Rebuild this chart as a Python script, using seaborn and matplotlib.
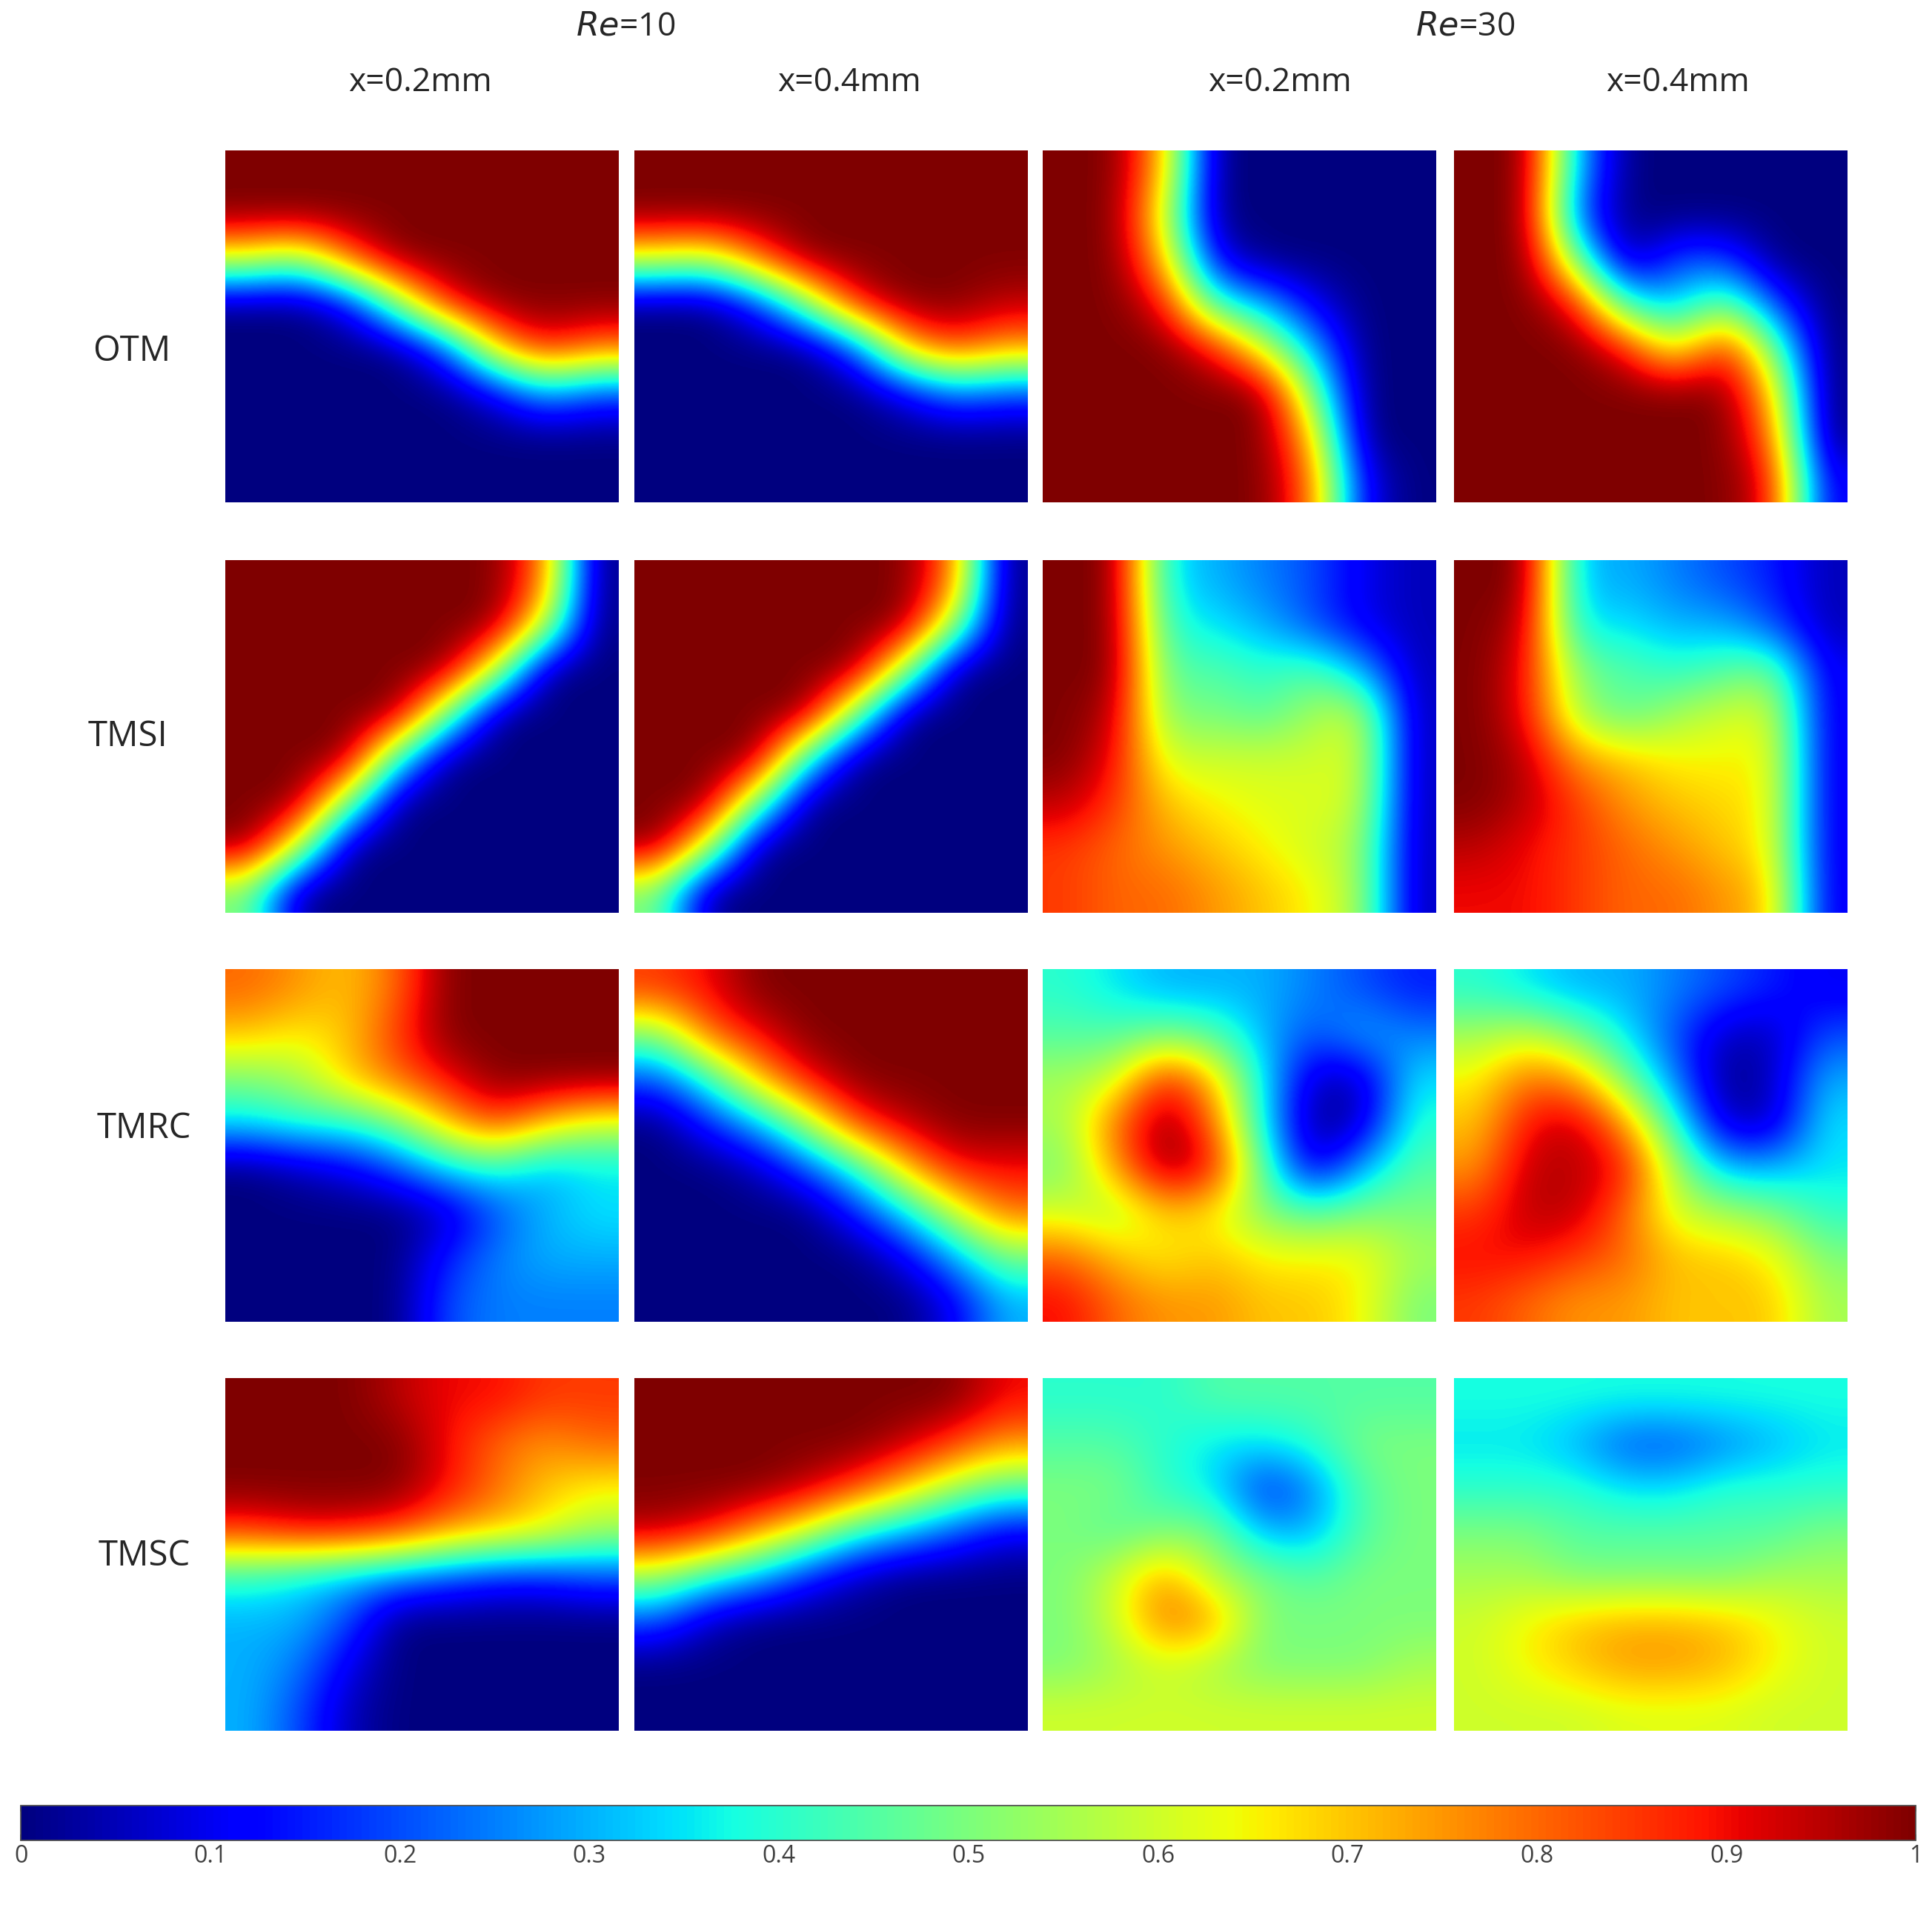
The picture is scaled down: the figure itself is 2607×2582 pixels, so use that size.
import numpy as np
import matplotlib
matplotlib.use('Agg')
import matplotlib.pyplot as plt
import seaborn as sns

sns.set_theme(style='white')
plt.rcParams['font.family'] = ['Open Sans', 'DejaVu Sans']

rows = ['OTM', 'TMSI', 'TMRC', 'TMSC']
re_labels = ['10', '30']
x_labels = ['x=0.2mm', 'x=0.4mm', 'x=0.2mm', 'x=0.4mm']
cbar_ticks = [0, 0.1, 0.2, 0.3, 0.4, 0.5, 0.6, 0.7, 0.8, 0.9, 1]
cbar_labels = ['0', '0.1', '0.2', '0.3', '0.4', '0.5', '0.6', '0.7', '0.8', '0.9', '1']

# concentration on a coarse 8x8 grid (top row first)
otm_10_02 = [[1, 1, 1, 1, 1, 1, 1, 1],
             [1, 1, 1, 1, 1, 1, 1, 1],
             [.6, .5, .8, 1, 1, 1, 1, 1],
             [0, 0, .1, .5, .9, 1, 1, 1],
             [0, 0, 0, 0, .2, .7, .9, .8],
             [0, 0, 0, 0, 0, .1, .3, .2],
             [0, 0, 0, 0, 0, 0, 0, 0],
             [0, 0, 0, 0, 0, 0, 0, 0]]
otm_10_04 = [[1, 1, 1, 1, 1, 1, 1, 1],
             [1, 1, 1, 1, 1, 1, 1, 1],
             [.6, .55, .8, 1, 1, 1, 1, 1],
             [0, 0, .15, .5, .9, 1, 1, .95],
             [0, 0, 0, 0, .2, .7, .85, .75],
             [0, 0, 0, 0, 0, .1, .25, .2],
             [0, 0, 0, 0, 0, 0, 0, 0],
             [0, 0, 0, 0, 0, 0, 0, 0]]
otm_30_02 = [[1, 1, .7, 0, 0, 0, 0, 0],
             [1, 1, .6, 0, 0, 0, 0, 0],
             [1, 1, .7, .1, 0, 0, 0, 0],
             [1, 1, .9, .4, .3, .1, 0, 0],
             [1, 1, 1, .9, .6, .3, 0, 0],
             [1, 1, 1, 1, 1, .5, 0, 0],
             [1, 1, 1, 1, 1, .7, 0, 0],
             [1, 1, 1, 1, 1, .8, .1, 0]]
otm_30_04 = [[1, 1, .3, 0, 0, 0, 0, 0],
             [1, 1, .2, 0, 0, 0, 0, 0],
             [1, 1, .5, 0, .2, .2, 0, 0],
             [1, 1, .9, .4, .3, .5, .2, 0],
             [1, 1, 1, .9, .6, .9, .5, 0],
             [1, 1, 1, 1, 1, 1, .7, 0],
             [1, 1, 1, 1, 1, 1, .8, 0],
             [1, 1, 1, 1, 1, 1, .9, .1]]
tmsi_10_02 = [[1, 1, 1, 1, 1, 1, .8, 0],
              [1, 1, 1, 1, 1, 1, .6, 0],
              [1, 1, 1, 1, 1, .6, 0, 0],
              [1, 1, 1, 1, .5, 0, 0, 0],
              [1, 1, 1, .4, 0, 0, 0, 0],
              [1, 1, .5, 0, 0, 0, 0, 0],
              [1, .6, 0, 0, 0, 0, 0, 0],
              [.5, 0, 0, 0, 0, 0, 0, 0]]
tmsi_10_04 = [[1, 1, 1, 1, 1, 1, .8, 0],
              [1, 1, 1, 1, 1, 1, .55, 0],
              [1, 1, 1, 1, 1, .55, 0, 0],
              [1, 1, 1, 1, .5, 0, 0, 0],
              [1, 1, 1, .4, 0, 0, 0, 0],
              [1, 1, .5, 0, 0, 0, 0, 0],
              [1, .6, 0, 0, 0, 0, 0, 0],
              [.5, 0, 0, 0, 0, 0, 0, 0]]
tmsi_30_02 = [[1, 1, .35, .3, .25, .2, .1, .05],
              [1, 1, .4, .35, .3, .2, .1, .05],
              [1, 1, .45, .45, .4, .45, .3, .05],
              [1, .95, .5, .5, .45, .55, .6, .05],
              [1, .9, .6, .6, .6, .6, .62, .05],
              [.95, .85, .7, .65, .62, .62, .6, .05],
              [.85, .8, .75, .7, .65, .6, .55, .05],
              [.85, .8, .8, .75, .7, .65, .55, .05]]
tmsi_30_04 = [[1, 1, .3, .3, .25, .2, .15, .05],
              [1, .95, .35, .35, .3, .3, .2, .05],
              [1, .9, .5, .45, .4, .45, .5, .1],
              [1, .9, .55, .45, .55, .6, .62, .1],
              [1, .95, .75, .7, .65, .65, .65, .1],
              [1, .95, .85, .75, .7, .68, .65, .1],
              [.95, .9, .85, .8, .75, .7, .65, .1],
              [.9, .9, .85, .8, .8, .75, .7, .1]]
tmrc_10_02 = [[.8, .75, .7, .8, 1, 1, 1, 1],
              [.7, .65, .7, .85, 1, 1, 1, 1],
              [.5, .55, .7, .8, .9, 1, 1, 1],
              [.35, .4, .4, .5, .7, .85, .7, .6],
              [0, .05, .1, .2, .35, .4, .3, .35],
              [0, 0, 0, 0, .05, .2, .3, .35],
              [0, 0, 0, 0, .15, .25, .3, .3],
              [0, 0, 0, 0, .2, .25, .25, .25]]
tmrc_10_04 = [[.85, .9, 1, 1, 1, 1, 1, 1],
              [.5, .8, .9, 1, 1, 1, 1, 1],
              [.2, .4, .7, .9, 1, 1, 1, 1],
              [0, .15, .3, .55, .85, .95, 1, 1],
              [0, 0, .05, .2, .4, .7, .9, .9],
              [0, 0, 0, 0, .15, .35, .6, .8],
              [0, 0, 0, 0, 0, .1, .3, .5],
              [0, 0, 0, 0, 0, 0, .1, .3]]
tmrc_30_02 = [[.4, .35, .3, .3, .3, .25, .2, .15],
              [.45, .45, .5, .45, .3, .2, .3, .25],
              [.55, .6, .9, .7, .35, .05, .05, .35],
              [.55, .8, 1, .8, .35, 0, .05, .4],
              [.5, .75, 1, .9, .45, .05, .3, .45],
              [.6, .55, .7, .65, .5, .45, .5, .5],
              [.8, .7, .65, .7, .65, .65, .65, .55],
              [.9, .8, .75, .75, .7, .7, .65, .5]]
tmrc_30_04 = [[.4, .35, .3, .3, .25, .2, .15, .1],
              [.55, .6, .5, .35, .2, .05, .05, .2],
              [.65, .8, .75, .5, .25, 0, .05, .3],
              [.7, .9, .95, .75, .4, .05, .05, .35],
              [.75, .95, .95, .9, .55, .3, .3, .35],
              [.85, .95, .95, .8, .6, .55, .5, .4],
              [.9, .9, .85, .8, .7, .7, .65, .5],
              [.85, .8, .75, .75, .7, .7, .7, .55]]
tmsc_10_02 = [[1, 1, 1, .95, .9, .9, .85, .85],
              [1, 1, 1, 1, .9, .8, .75, .8],
              [1, 1, 1, 1, .9, .8, .7, .65],
              [.85, .9, .9, .85, .75, .7, .65, .55],
              [.4, .35, .3, .25, .2, .15, .15, .2],
              [.3, .3, .2, 0, 0, 0, 0, 0],
              [.3, .25, .1, 0, 0, 0, 0, 0],
              [.3, .2, .05, 0, 0, 0, 0, 0]]
tmsc_10_04 = [[1, 1, 1, 1, 1, 1, 1, .9],
              [1, 1, 1, 1, 1, .95, .85, .75],
              [1, 1, 1, .95, .85, .7, .55, .45],
              [.95, .9, .75, .6, .4, .3, .2, .1],
              [.55, .4, .3, .15, .05, 0, 0, 0],
              [.2, .05, 0, 0, 0, 0, 0, 0],
              [0, 0, 0, 0, 0, 0, 0, 0],
              [0, 0, 0, 0, 0, 0, 0, 0]]
tmsc_30_02 = [[.4, .4, .4, .45, .45, .45, .45, .45],
              [.45, .45, .4, .35, .35, .4, .5, .5],
              [.5, .5, .4, .35, .15, .25, .45, .5],
              [.5, .45, .5, .5, .3, .3, .45, .5],
              [.5, .6, .75, .55, .5, .45, .5, .5],
              [.5, .6, .8, .75, .5, .5, .5, .5],
              [.5, .55, .6, .55, .5, .5, .5, .55],
              [.6, .6, .6, .6, .6, .6, .6, .6]]
tmsc_30_04 = [[.38, .38, .38, .38, .38, .38, .38, .38],
              [.35, .35, .3, .2, .2, .25, .3, .35],
              [.4, .4, .4, .35, .35, .4, .4, .4],
              [.5, .5, .45, .45, .45, .45, .45, .5],
              [.55, .55, .5, .5, .5, .5, .55, .55],
              [.6, .65, .7, .72, .72, .7, .65, .6],
              [.6, .65, .7, .75, .75, .72, .65, .6],
              [.6, .6, .6, .62, .62, .62, .6, .6]]

panels = [[otm_10_02, otm_10_04, otm_30_02, otm_30_04],
          [tmsi_10_02, tmsi_10_04, tmsi_30_02, tmsi_30_04],
          [tmrc_10_02, tmrc_10_04, tmrc_30_02, tmrc_30_04],
          [tmsc_10_02, tmsc_10_04, tmsc_30_02, tmsc_30_04]]

W, H = 1568, 1553
def box(x0, y0, w, h):
    return [x0 / W, 1 - (y0 + h) / H, w / W, h / H]

fig = plt.figure(figsize=(26.07, 25.82), dpi=100)
col_left = [183, 515, 846, 1180]
row_top = [122, 455, 787, 1119]
row_lab_x = [107, 104, 117, 117]
row_lab_y = [285, 598, 916, 1263]

for i in range(4):
    for j in range(4):
        ax = fig.add_axes(box(col_left[j], row_top[i], 319, 286))
        im = ax.imshow(np.array(panels[i][j]), cmap='jet', vmin=0, vmax=1,
                       interpolation='bicubic', aspect='auto')
        ax.set_xticks([])
        ax.set_yticks([])
        for s in ax.spines.values():
            s.set_visible(False)
    fig.text(row_lab_x[i] / W, 1 - row_lab_y[i] / H, rows[i],
             fontsize=34, ha='center', va='center')

for k, xc in enumerate([508, 1189]):
    fig.text(xc / W, 1 - 22 / H, '$\\mathit{Re}$=' + re_labels[k],
             fontsize=32, ha='center', va='center')
for j, xc in enumerate([341, 689, 1039, 1362]):
    fig.text(xc / W, 1 - 67 / H, x_labels[j], fontsize=32, ha='center', va='center')

cax = fig.add_axes(box(17, 1466, 1538, 28))
cb = fig.colorbar(im, cax=cax, orientation='horizontal', ticks=cbar_ticks)
cb.ax.set_xticklabels(cbar_labels)
cb.ax.tick_params(labelsize=23, direction='in', length=6, color='0.3', pad=4,
                  labelcolor='0.25', top=True, bottom=True)
cb.outline.set_edgecolor('0.3')

fig.savefig('out.png', dpi=100)
